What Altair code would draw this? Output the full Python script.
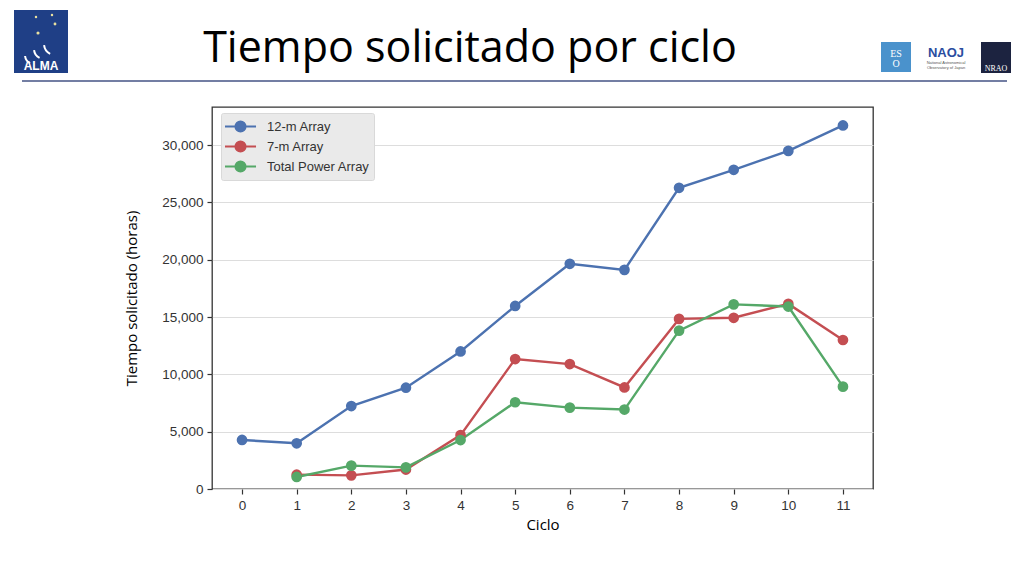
import altair as alt
import pandas as pd

cycles = list(range(12))
series_names = ["12-m Array", "7-m Array", "Total Power Array"]
twelve_m = [4280, 3990, 7240, 8840, 12000, 15970, 19650, 19120, 26280, 27850, 29500, 31720]
seven_m = [None, 1250, 1190, 1700, 4700, 11340, 10900, 8860, 14840, 14940, 16150, 13000]
total_power = [None, 1050, 2040, 1890, 4270, 7570, 7100, 6930, 13820, 16110, 15920, 8930]
colors = ["#4C72B0", "#C44E52", "#55A868"]

rows = []
for name, vals in zip(series_names, [twelve_m, seven_m, total_power]):
    for c, v in zip(cycles, vals):
        if v is not None:
            rows.append({"Ciclo": c, "Horas": v, "Serie": name})
df = pd.DataFrame(rows)

# line with a dot, 31px wide at symbolSize 256 (unit = 8px)
LEGEND_PATH = "M-1.94,0H1.94M-0.62,0A0.62,0.62,0,1,1,0.62,0A0.62,0.62,0,1,1,-0.62,0Z"

color = alt.Color(
    "Serie:N",
    scale=alt.Scale(domain=series_names, range=colors),
    sort=series_names,
    legend=alt.Legend(
        title=None,
        orient="none",
        legendX=9,
        legendY=6,
        symbolType=LEGEND_PATH,
        symbolSize=256,
        symbolStrokeWidth=2.2,
        symbolOffset=6,
        labelFont="Liberation Sans",
        labelFontSize=13,
        labelColor="#333333",
        fillColor="#EAEAEA",
        strokeColor="#D9D9D9",
        padding=4,
        rowPadding=1,
        labelOffset=17,
        cornerRadius=2,
    ),
)

x = alt.X(
    "Ciclo:Q",
    scale=alt.Scale(domain=[-0.55, 11.55], nice=False, zero=False),
    axis=alt.Axis(values=cycles, format="d", title="Ciclo", grid=False),
)
y = alt.Y(
    "Horas:Q",
    scale=alt.Scale(domain=[0, 33330], nice=False),
    axis=alt.Axis(values=[0, 5000, 10000, 15000, 20000, 25000, 30000], format=",.0f",
                  title="Tiempo solicitado (horas)", grid=True),
)

lines = alt.Chart(df).mark_line(strokeWidth=2.4).encode(x=x, y=y, color=color)
points = alt.Chart(df).mark_circle(size=115, opacity=1).encode(x=x, y=y, color=color)

# slide decorations (header)
deco = pd.DataFrame({"k": [0]})
base = alt.Chart(deco)
alma_box = base.mark_rect(color="#1F3F86").encode(
    x=alt.value(-198), x2=alt.value(-144), y=alt.value(-97), y2=alt.value(-34))
alma_txt = base.mark_text(text="ALMA", color="white", font="Liberation Sans",
                          fontSize=12, fontWeight="bold").encode(
    x=alt.value(-171), y=alt.value(-41))
stars = [base.mark_circle(color="#E8E0A0", size=s, opacity=1).encode(x=alt.value(px), y=alt.value(py))
         for px, py, s in [(-176, -90, 6), (-160, -92, 6), (-157, -83, 8), (-174, -74, 10)]]
dishes = [base.mark_arc(radius=r, radius2=r - 2, theta=3.6, theta2=4.6, color="white").encode(
    x=alt.value(px), y=alt.value(py)) for px, py, r in [(-178, -52, 10), (-168, -58, 11), (-157, -63, 12)]]
title = base.mark_text(text="Tiempo solicitado por ciclo", color="black", font="Open Sans",
                       fontSize=43, align="center", baseline="alphabetic").encode(
    x=alt.value(258), y=alt.value(-45))
rule = base.mark_rule(color="#737EA3", strokeWidth=2).encode(
    x=alt.value(-190), x2=alt.value(795), y=alt.value(-26))
eso_box = base.mark_rect(color="#4A92CC").encode(
    x=alt.value(669), x2=alt.value(699), y=alt.value(-65), y2=alt.value(-35))
eso_txt = base.mark_text(text="ES", color="white", font="Liberation Serif",
                         fontSize=10).encode(x=alt.value(684), y=alt.value(-53))
eso_txt2 = base.mark_text(text="O", color="white", font="Liberation Serif",
                          fontSize=10).encode(x=alt.value(684), y=alt.value(-43))
naoj_txt = base.mark_text(text="NAOJ", color="#2A4DA0", font="Liberation Sans",
                          fontSize=13, fontWeight="bold").encode(x=alt.value(734), y=alt.value(-54))
naoj_sub = base.mark_text(text="National Astronomical", color="#555555", font="Liberation Sans",
                          fontSize=4).encode(x=alt.value(734), y=alt.value(-44))
naoj_sub2 = base.mark_text(text="Observatory of Japan", color="#555555", font="Liberation Sans",
                           fontSize=4).encode(x=alt.value(734), y=alt.value(-39))
nrao_box = base.mark_rect(color="#1C2340").encode(
    x=alt.value(769), x2=alt.value(799), y=alt.value(-65), y2=alt.value(-34))
nrao_txt = base.mark_text(text="NRAO", color="white", font="Liberation Serif",
                          fontSize=8).encode(x=alt.value(784), y=alt.value(-38))

chart = alt.layer(
    lines, points, alma_box, alma_txt, *stars, *dishes, title, rule,
    eso_box, eso_txt, eso_txt2, naoj_txt, naoj_sub, naoj_sub2, nrao_box, nrao_txt,
).properties(
    width=661,
    height=382,
    autosize=alt.AutoSizeParams(type="none"),
    padding={"left": 204, "top": 99, "right": 143, "bottom": 79},
    background="white",
).configure_view(
    stroke="#333333", strokeWidth=1.3
).configure_axis(
    labelFont="Liberation Sans",
    labelFontSize=13.5,
    labelColor="#333333",
    titleFont="Open Sans",
    titleFontSize=15,
    titleFontWeight="normal",
    titleColor="black",
    tickColor="#333333",
    tickSize=5,
    tickWidth=1.2,
    domain=False,
    gridColor="#DDDDDD",
    gridWidth=1,
    labelPadding=4,
).configure_axisY(
    titlePadding=22
).configure_axisX(
    titlePadding=6
)

chart.save("out.html", embed_options={"renderer": "svg", "actions": False})
